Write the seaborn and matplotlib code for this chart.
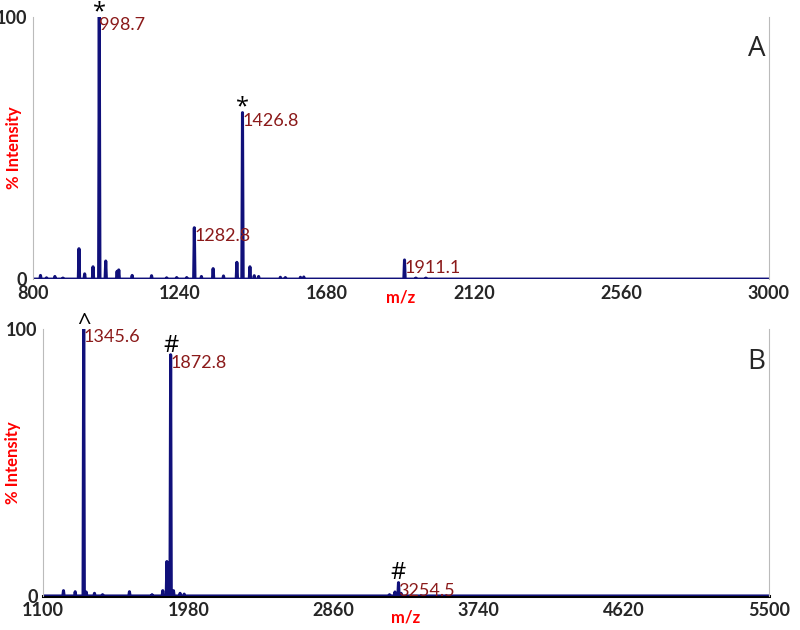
import numpy as np
import pandas as pd
import matplotlib
matplotlib.use('Agg')
import matplotlib.pyplot as plt
import matplotlib.transforms as mtransforms
import seaborn as sns

sns.set_style('white')
plt.rcParams['font.family'] = ['Lato', 'DejaVu Sans']

# Спектр A
a_mz = [823, 841, 866, 890, 938, 955, 980, 998.7, 1018, 1052, 1057, 1097, 1155, 1200, 1230,
        1260, 1282.8, 1304, 1339, 1370, 1410, 1426.8, 1449, 1462, 1475, 1540, 1555, 1600,
        1610, 1911.1, 1945, 1975]
a_int = [1.4, 0.5, 1.0, 0.4, 11.6, 2.0, 4.7, 100, 6.9, 3.0, 3.5, 1.4, 1.3, 0.5, 0.6,
         0.6, 19.6, 1.0, 4.0, 1.2, 6.4, 63.5, 4.7, 1.3, 1.0, 0.7, 0.6, 0.7,
         0.8, 7.3, 0.4, 0.4]
a_labels = ['998.7', '1426.8', '1282.8', '1911.1']
a_marks = {'998.7': '*', '1426.8': '*'}

# Спектр B
b_mz = [1223, 1294, 1345.6, 1361, 1411, 1460, 1623, 1760, 1825, 1850, 1872.8, 1890, 1930,
        1955, 3200, 3233, 3254.5, 3270]
b_int = [2.0, 1.6, 100, 1.5, 1.0, 0.5, 1.6, 0.5, 2.0, 12.9, 90.3, 2.0, 1.0,
         0.7, 0.5, 1.5, 5.0, 1.0]
b_labels = ['1345.6', '1872.8', '3254.5']
b_marks = {'1345.6': '^', '1872.8': '#', '3254.5': '#'}

a_ticks = [800, 1240, 1680, 2120, 2560, 3000]
b_ticks = [1100, 1980, 2860, 3740, 4620, 5500]

BLUE = '#10107a'
DARKRED = '#8b1a1a'
MARKFONT = ['Open Sans', 'DejaVu Sans']
MARK_DROP = {'*': 5, '^': 5, '#': 2}  # насколько опустить значок, pt


def profile(mz, inten, lo, hi, w):
    xs, ys = [lo], [0]
    for m, h in sorted(zip(mz, inten)):
        xs += [m - w, m, m + w]
        ys += [0, h, 0]
    xs.append(hi)
    ys.append(0)
    return pd.DataFrame({'mz': xs, 'intensity': ys})


def spectrum(ax, mz, inten, ticks, labels, marks, letter, w, black_base, ylab_x, xlab_y):
    df = profile(mz, inten, ticks[0], ticks[-1], w)
    sns.lineplot(data=df, x='mz', y='intensity', ax=ax, color=BLUE, lw=2.2,
                 estimator=None, sort=False)
    ax.set_xlim(ticks[0], ticks[-1])
    ax.set_ylim(0, 100)
    ax.set_xticks(ticks)
    ax.set_xticklabels([str(t) for t in ticks], fontweight='bold', fontsize=13)
    # подписи по x немного сдвинуты вправо, как в исходнике
    shift = mtransforms.ScaledTranslation(8 / 100, 0, ax.figure.dpi_scale_trans)
    for t in ax.get_xticklabels():
        t.set_transform(t.get_transform() + shift)
    ax.set_yticks([0, 100])
    ax.set_yticklabels(['0', '100'], fontweight='bold', fontsize=13)
    ax.set_yticks(np.arange(0, 101, 10), minor=True)
    ax.tick_params(axis='y', which='minor', length=3, color='#bbbbbb', width=0.8)
    ax.tick_params(axis='y', which='major', length=3, color='#bbbbbb', pad=1)
    ax.tick_params(axis='x', length=0, pad=4)
    ax.set_xlabel('m/z', color='red', fontweight='bold', fontsize=12)
    ax.xaxis.set_label_coords(0.5, xlab_y)
    ax.set_ylabel('% Intensity', color='red', fontweight='bold', fontsize=12)
    ax.yaxis.set_label_coords(ylab_x, 0.5)
    ax.spines['top'].set_visible(False)
    ax.spines['left'].set_color('#bbbbbb')
    ax.spines['left'].set_linewidth(0.8)
    ax.spines['right'].set_color('#bbbbbb')
    ax.spines['right'].set_linewidth(0.8)
    if black_base:
        ax.spines['bottom'].set_color('black')
        ax.spines['bottom'].set_linewidth(2.2)
        ax.spines['bottom'].set_zorder(1)
    else:
        ax.spines['bottom'].set_visible(False)
    for lab in labels:
        m = float(lab)
        h = inten[mz.index(m)]
        ax.text(m, h, lab, color=DARKRED, fontsize=13, ha='left', va='top')
        if lab in marks:
            sym = marks[lab]
            ax.annotate(sym, (m, h), xytext=(0, -MARK_DROP[sym]), textcoords='offset points',
                        color='black', fontsize=17, ha='center', va='bottom',
                        annotation_clip=False, family=MARKFONT)
    ax.text(0.995, 0.93, letter, transform=ax.transAxes, fontsize=20, ha='right',
            va='top', family=MARKFONT)


fig = plt.figure(figsize=(8, 6.3), dpi=100)
ax_a = fig.add_axes([0.041, 0.557, 0.92, 0.416])
ax_b = fig.add_axes([0.054, 0.054, 0.907, 0.424])

spectrum(ax_a, a_mz, a_int, a_ticks, a_labels, a_marks, 'A', 2, False, -0.014, -0.04)
spectrum(ax_b, b_mz, b_int, b_ticks, b_labels, b_marks, 'B', 4, True, -0.031, -0.05)

fig.savefig('out.png', dpi=100)
